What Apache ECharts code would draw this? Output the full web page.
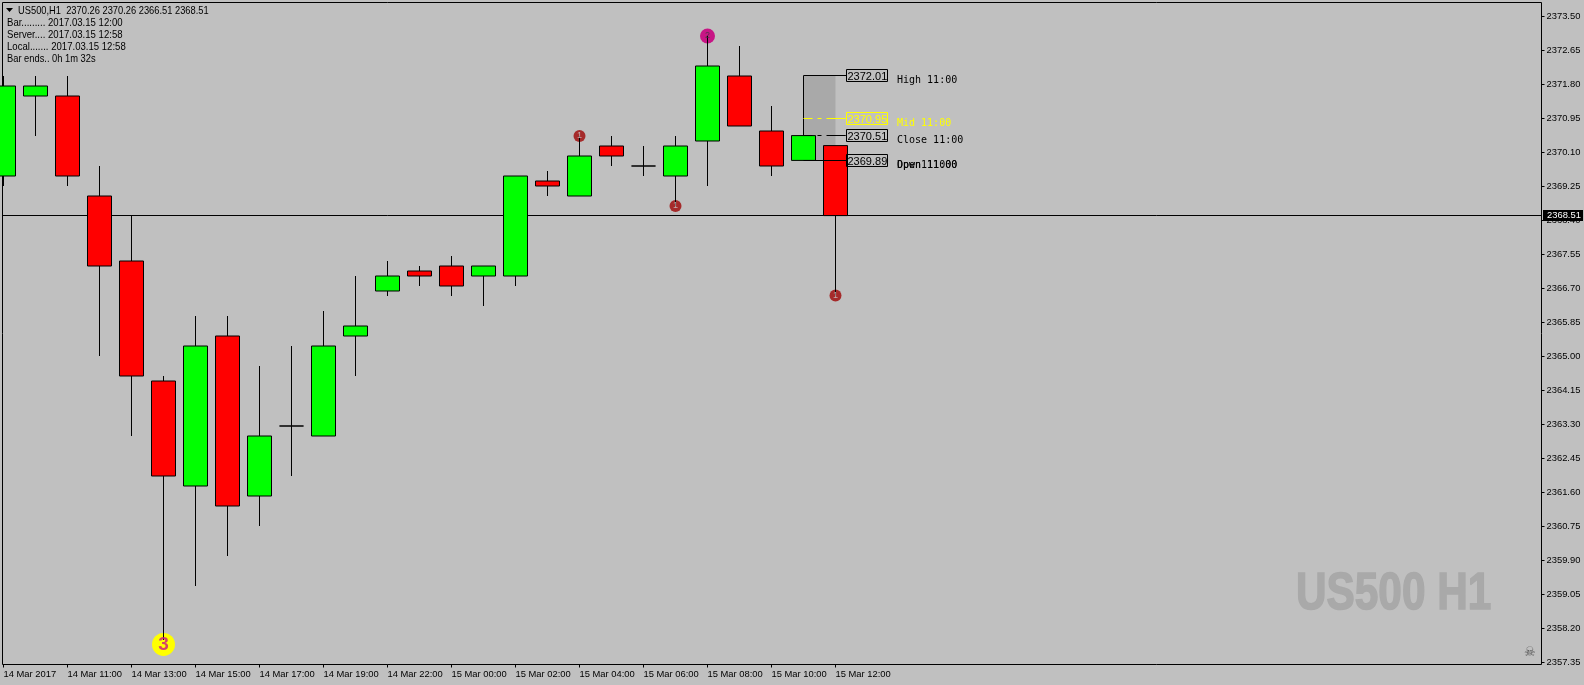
<!DOCTYPE html>
<html><head><meta charset="utf-8">
<style>html,body{margin:0;padding:0;background:#c0c0c0;overflow:hidden}#c{width:1584px;height:685px}</style>
<script src="https://cdn.jsdelivr.net/npm/echarts@6/dist/echarts.min.js"></script>
</head><body><div id="c"></div>
<script>
// [index, open, close, low, high]
const candles = [
[0,2369.5,2371.75,2369.25,2372.0],[1,2371.5,2371.75,2370.5,2372.0],[2,2371.5,2369.5,2369.25,2372.0],
[3,2369.0,2367.25,2365.0,2369.75],[4,2367.375,2364.5,2363.0,2368.5],[5,2364.375,2362.0,2357.9,2364.5],
[6,2361.75,2365.25,2359.25,2366.0],[7,2365.5,2361.25,2360.0,2366.0],[8,2361.5,2363.0,2360.75,2364.75],
[9,2363.25,2363.25,2362.0,2365.25],[10,2363.0,2365.25,2363.0,2366.125],[11,2365.5,2365.75,2364.5,2367.0],
[12,2366.625,2367.0,2366.5,2367.375],[13,2367.125,2367.0,2366.75,2367.25],[14,2367.25,2366.75,2366.5,2367.5],
[15,2367.0,2367.25,2366.25,2367.25],[16,2367.0,2369.5,2366.75,2369.5],[17,2369.375,2369.25,2369.0,2369.625],
[18,2369.0,2370.0,2369.0,2370.5],[19,2370.25,2370.0,2369.75,2370.5],[20,2369.75,2369.75,2369.5,2370.25],
[21,2369.5,2370.25,2368.75,2370.5],[22,2370.375,2372.25,2369.25,2373.0],[23,2372.0,2370.75,2370.75,2372.75],
[24,2370.625,2369.75,2369.5,2371.25],[25,2369.89,2370.51,2369.89,2372.01],[26,2370.26,2368.51,2366.51,2370.26]
];
const timeTicks = [0,2,4,6,8,10,12,14,16,18,20,22,24,26];
const timeLabels = ['14 Mar 2017','14 Mar 11:00','14 Mar 13:00','14 Mar 15:00','14 Mar 17:00','14 Mar 19:00','14 Mar 22:00','15 Mar 00:00','15 Mar 02:00','15 Mar 04:00','15 Mar 06:00','15 Mar 08:00','15 Mar 10:00','15 Mar 12:00'];
const priceTicks = [2373.50,2372.65,2371.80,2370.95,2370.10,2369.25,2368.40,2367.55,2366.70,2365.85,2365.00,2364.15,2363.30,2362.45,2361.60,2360.75,2359.90,2359.05,2358.20,2357.35];
const lastPrice = 2368.51;
const levelPrices = [2372.01,2370.95,2370.51,2369.89];
const levelNames = ['High 11:00','Mid 11:00','Close 11:00','Open 11:00'];
const levelNameOverlay = ['','','','Dpwn111000'];
const levelColors = ['#000','#ffff00','#000','#000'];
const levelDash = [null,[9,5,4,5,19,0],[9,5,4,5,19,0],null];
const rangeBox = [25,26,2372.01,2369.89];
const badgeSmall = [[18,2370.5,'1'],[21,2368.75,'1'],[26,2366.51,'1']];
const badgeMid = [[22,2373.0,'2']];
const badgeBig = [[5,2357.79,'3']];
const headerLines = ['Bar......... 2017.03.15 12:00','Server.... 2017.03.15 12:58','Local....... 2017.03.15 12:58','Bar ends.. 0h 1m 32s'];
const headerTitle = 'US500,H1  2370.26 2370.26 2366.51 2368.51';
const watermark = 'US500 H1';

const uiFont = '"Liberation Sans"';
const monoFont = '"DejaVu Sans Mono"';
const chart = echarts.init(document.getElementById('c'), null, {renderer:'canvas'});

function row(y){ return Math.floor(y)+0.5; }
const graphics = [
 {type:'polygon',shape:{points:[[6,8],[13,8],[9.5,12]]},style:{fill:'#000'},z:20},
 {type:'text',x:18,y:6,scaleX:0.905,style:{text:headerTitle,font:'10.3px '+uiFont,fill:'#000'},z:20},
 ...headerLines.map((t,i)=>({type:'text',x:7,y:18+12*i,scaleX:i<3?0.93:0.905,style:{text:t,font:'10.3px '+uiFont,fill:'#000'},z:20})),
 {type:'text',x:1296,y:569,scaleX:0.814,style:{text:watermark,font:'bold 52px "Liberation Sans"',fill:'#a9a9a9',stroke:'#a9a9a9',lineWidth:1.5},z:1},
 {type:'text',x:1524,y:646,style:{text:'\u2620',font:'13px "DejaVu Sans"',fill:'#555'},z:1}
];

chart.setOption({
 animation:false,
 backgroundColor:'#c0c0c0',
 graphic:graphics,
 grid:{left:2.5,top:2.5,width:1539,height:662,show:true,outerBoundsMode:'none',backgroundColor:'#c0c0c0',borderColor:'#000',borderWidth:1},
 xAxis:{type:'value',min:-0.03125,max:48.0625,splitLine:{show:false},axisLine:{show:false,onZero:false},
  axisTick:{show:true,length:3,customValues:timeTicks,lineStyle:{color:'#000'}},
  axisLabel:{customValues:timeTicks,align:'left',margin:5,color:'#000',fontFamily:'Liberation Sans',fontSize:9.4,
   formatter:v=>timeLabels[timeTicks.indexOf(Math.round(v))]||''}},
 yAxis:{type:'value',position:'right',min:2357.2875,max:2373.8375,scale:true,splitLine:{show:false},axisLine:{show:false,onZero:false},
  axisTick:{show:true,length:3,customValues:priceTicks,lineStyle:{color:'#000'}},
  axisLabel:{customValues:priceTicks,margin:5,color:'#000',fontFamily:'Liberation Sans',fontSize:9.4,padding:[2,0,0,0],formatter:v=>v.toFixed(2)}},
 series:[
  {type:'custom',name:'range',z:1,coordinateSystem:'cartesian2d',data:[rangeBox],encode:{x:[0,1],y:[2,3]},
   renderItem:(p,api)=>{const a=api.coord([api.value(0),api.value(2)]),b=api.coord([api.value(1),api.value(3)]);
    return {type:'rect',shape:{x:a[0],y:row(a[1]),width:b[0]-a[0],height:row(b[1])-row(a[1])},style:{fill:'#a9a9a9'}};}},
  {type:'custom',name:'last',z:1,data:[[0,lastPrice]],encode:{y:1},
   renderItem:(p,api)=>{const y=row(api.coord([0,api.value(1)])[1]);const c=p.coordSys;
    return {type:'line',shape:{x1:c.x,y1:y,x2:c.x+c.width,y2:y},style:{stroke:'#000',lineWidth:1}};}},
  {type:'scatter',name:'badgeSmall',z:1,symbolSize:12,itemStyle:{color:'#a52a2a',opacity:1},data:badgeSmall.map(d=>d.slice(0,2))},
  {type:'scatter',name:'badgeMid',z:1,symbolSize:15,itemStyle:{color:'#c71585',opacity:1},data:badgeMid.map(d=>d.slice(0,2))},
  {type:'scatter',name:'badgeBig',z:1,symbolSize:23,itemStyle:{color:'#ffff00',opacity:1},data:badgeBig.map(d=>d.slice(0,2))},
  {type:'candlestick',z:3,barWidth:24,clip:true,data:candles,encode:{x:0,y:[1,2,3,4]},
   itemStyle:{color:'#00ff00',color0:'#ff0000',borderColor:'#000',borderColor0:'#000',borderColorDoji:'#000',borderWidth:1}},
  {type:'scatter',name:'badgeText',z:5,symbolSize:1,itemStyle:{color:'transparent'},
   data:[...badgeSmall,
        ...badgeMid.map(d=>({value:d,label:{color:'#3a3a3a',fontSize:9}})),
        ...badgeBig.map(d=>({value:d,label:{color:'#c71585',fontSize:19,fontWeight:'bold',padding:[3,0,0,0]}}))],
   label:{show:true,position:'inside',formatter:p=>p.value[2],color:'#ccc',fontSize:9,fontFamily:'Liberation Sans'}},
  {type:'custom',name:'levels',z:6,clip:false,data:levelPrices.map((v,i)=>[i,v]),encode:{y:1},
   renderItem:(p,api)=>{
    const i=api.value(0),v=api.value(1),c=levelColors[i];
    const xs=api.coord([25,v])[0],xe=api.coord([26,v])[0]+11,y=row(api.coord([25,v])[1]);
    const kids=[
     {type:'line',shape:{x1:xs,y1:y,x2:xe,y2:y},style:{stroke:c,lineWidth:1,lineDash:levelDash[i]||null}},
     {type:'rect',shape:{x:xe,y:y-6,width:41,height:12},style:{fill:'transparent',stroke:c,lineWidth:1}},
     {type:'text',x:xe+1,y:y-4,style:{text:v.toFixed(2),font:'11px "Liberation Sans"',fill:c}},
     {type:'text',x:xe+50.5,y:y-0.5,style:{text:levelNames[i],font:'10px '+monoFont,fill:c}}
    ];
    if(levelNameOverlay[i]) kids.push({type:'text',x:xe+50.5,y:y-0.5,style:{text:levelNameOverlay[i],font:'10px '+monoFont,fill:c}});
    return {type:'group',children:kids};
   }},
  {type:'custom',name:'lastTag',z:7,clip:false,data:[[0,lastPrice]],encode:{y:1},
   renderItem:(p,api)=>{const y=row(api.coord([0,api.value(1)])[1]);
    return {type:'group',children:[
     {type:'rect',shape:{x:1543,y:y-5.5,width:40,height:11},style:{fill:'#000'}},
     {type:'text',x:1547,y:y-4.5,style:{text:lastPrice.toFixed(2),font:'9.4px '+uiFont,fill:'#fff'}}
    ]};}}
 ]
});
</script></body></html>
